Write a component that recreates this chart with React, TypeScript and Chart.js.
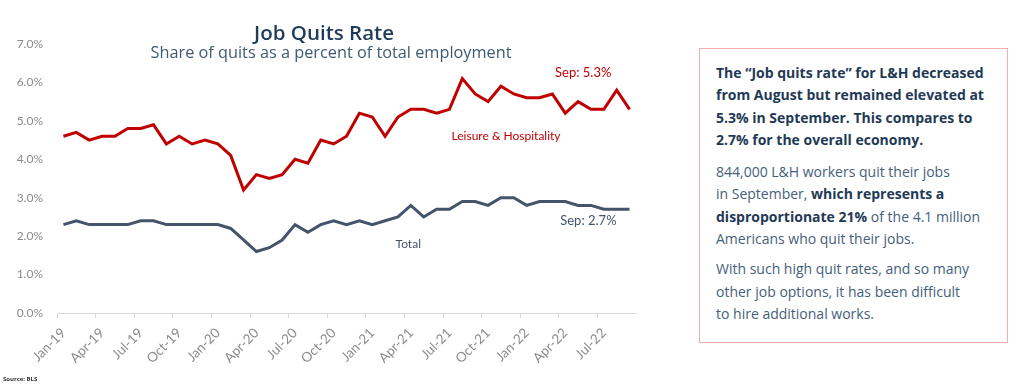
import React, { useEffect, useRef } from "react";
import { Chart, registerables } from "chart.js";

Chart.register(...registerables);

const months = [
  "Jan-19","Feb-19","Mar-19","Apr-19","May-19","Jun-19","Jul-19","Aug-19","Sep-19","Oct-19","Nov-19","Dec-19",
  "Jan-20","Feb-20","Mar-20","Apr-20","May-20","Jun-20","Jul-20","Aug-20","Sep-20","Oct-20","Nov-20","Dec-20",
  "Jan-21","Feb-21","Mar-21","Apr-21","May-21","Jun-21","Jul-21","Aug-21","Sep-21","Oct-21","Nov-21","Dec-21",
  "Jan-22","Feb-22","Mar-22","Apr-22","May-22","Jun-22","Jul-22","Aug-22","Sep-22",
];

const leisureHospitality = [
  4.6, 4.7, 4.5, 4.6, 4.6, 4.8, 4.8, 4.9, 4.4, 4.6, 4.4, 4.5,
  4.4, 4.1, 3.2, 3.6, 3.5, 3.6, 4.0, 3.9, 4.5, 4.4, 4.6, 5.2,
  5.1, 4.6, 5.1, 5.3, 5.3, 5.2, 5.3, 6.1, 5.7, 5.5, 5.9, 5.7,
  5.6, 5.6, 5.7, 5.2, 5.5, 5.3, 5.3, 5.8, 5.3,
];

const total = [
  2.3, 2.4, 2.3, 2.3, 2.3, 2.3, 2.4, 2.4, 2.3, 2.3, 2.3, 2.3,
  2.3, 2.2, 1.9, 1.6, 1.7, 1.9, 2.3, 2.1, 2.3, 2.4, 2.3, 2.4,
  2.3, 2.4, 2.5, 2.8, 2.5, 2.7, 2.7, 2.9, 2.9, 2.8, 3.0, 3.0,
  2.8, 2.9, 2.9, 2.9, 2.8, 2.8, 2.7, 2.7, 2.7,
];

const yTicks = [0, 1, 2, 3, 4, 5, 6, 7];

const RED = "#C00000";
const NAVY = "#44546A";

// annotation labels, placed in data coordinates (category index, percent)
const annotations = [
  { text: "Sep: 5.3%", x: 40.4, y: 6.25, color: RED, size: 13 },
  { text: "Leisure & Hospitality", x: 34.4, y: 4.6, color: RED, size: 12 },
  { text: "Total", x: 26.8, y: 1.8, color: NAVY, size: 12 },
  { text: "Sep: 2.7%", x: 40.8, y: 2.4, color: NAVY, size: 13 },
];

const annotationPlugin = {
  id: "seriesLabels",
  afterDatasetsDraw(chart: any) {
    const { ctx, scales } = chart;
    ctx.save();
    ctx.textAlign = "center";
    ctx.textBaseline = "middle";
    annotations.forEach((a) => {
      ctx.font = `${a.size}px Lato, "Liberation Sans", sans-serif`;
      ctx.fillStyle = a.color;
      ctx.fillText(a.text, scales.x.getPixelForValue(a.x), scales.y.getPixelForValue(a.y));
    });
    ctx.restore();
  },
};

function QuitsChart() {
  const ref = useRef<HTMLCanvasElement | null>(null);
  useEffect(() => {
    if (!ref.current) return;
    const chart = new Chart(ref.current, {
      type: "line",
      data: {
        labels: months,
        datasets: [
          {
            label: "Leisure & Hospitality",
            data: leisureHospitality,
            borderColor: RED,
            borderWidth: 3,
            pointRadius: 0,
            tension: 0,
          },
          {
            label: "Total",
            data: total,
            borderColor: NAVY,
            borderWidth: 3,
            pointRadius: 0,
            tension: 0,
          },
        ],
      },
      options: {
        animation: false,
        responsive: false,
        maintainAspectRatio: false,
        layout: { padding: { top: 44, right: 24, left: 0, bottom: 0 } },
        plugins: {
          legend: { display: false },
          title: { display: false },
          tooltip: { enabled: false },
        },
        scales: {
          x: {
            type: "category",
            offset: true,
            afterFit: (s: any) => { s.height = 74; },
            border: { display: true, color: "#D9D9D9", width: 1 },
            grid: {
              offset: true,
              drawOnChartArea: false,
              drawTicks: true,
              tickLength: 5,
              color: (c: any) => (c.index % 3 === 0 ? "#D9D9D9" : "rgba(0,0,0,0)"),
            },
            ticks: {
              autoSkip: false,
              minRotation: 45,
              maxRotation: 45,
              padding: 7,
              color: "#8C8C8C",
              font: { family: "Lato, 'Liberation Sans', sans-serif", size: 13.5 },
              callback: (_v: any, i: number) => (i % 3 === 0 ? months[i] : ""),
            },
          },
          y: {
            min: 0,
            max: 7,
            afterFit: (s: any) => { s.width = 57; },
            afterBuildTicks: (s: any) => { s.ticks = yTicks.map((v) => ({ value: v })); },
            border: { display: false },
            grid: { display: false, drawTicks: false },
            ticks: {
              padding: 14,
              color: "#8C8C8C",
              font: { family: "Lato, 'Liberation Sans', sans-serif", size: 12 },
              callback: (v: any) => Number(v).toFixed(1) + "%",
            },
          },
        },
      },
      plugins: [annotationPlugin],
    });
    return () => chart.destroy();
  }, []);
  return <canvas ref={ref} width={660} height={387} style={{ position: "absolute", left: 0, top: 0, width: 660, height: 387 }} />;
}

export default function App() {
  const sans = "'Open Sans', 'Noto Sans', sans-serif";
  const boxBold: React.CSSProperties = { fontWeight: 700, color: "#1F3A56" };
  return (
    <div style={{ position: "absolute", left: 0, top: 0, width: 1027, height: 387, background: "#fff", overflow: "hidden", fontFamily: sans }}>
      <QuitsChart />
      <div style={{ position: "absolute", left: 324, top: 19, transform: "translateX(-50%)", whiteSpace: "nowrap", fontSize: 20.5, fontWeight: 600, color: "#1F3B5A", lineHeight: "26px" }}>
        Job Quits Rate
      </div>
      <div style={{ position: "absolute", left: 331, top: 42, transform: "translateX(-50%)", whiteSpace: "nowrap", fontSize: 16.3, color: "#3E5A73", lineHeight: "20px" }}>
        Share of quits as a percent of total employment
      </div>
      <div style={{ position: "absolute", left: 699, top: 48, width: 309, height: 295, boxSizing: "border-box", border: "1.5px solid #F2AEAE", padding: "13px 0 0 16px", fontSize: 14, lineHeight: "22.3px", color: "#44607A", whiteSpace: "nowrap" }}>
        <div style={boxBold}>
          The “Job quits rate” for L&amp;H decreased<br />
          from August but remained elevated at<br />
          5.3% in September. This compares to<br />
          2.7% for the overall economy.
        </div>
        <div style={{ marginTop: 10 }}>
          844,000 L&amp;H workers quit their jobs<br />
          in September, <span style={boxBold}>which represents a</span><br />
          <span style={boxBold}>disproportionate 21%</span> of the 4.1 million<br />
          Americans who quit their jobs.
        </div>
        <div style={{ marginTop: 8 }}>
          With such high quit rates, and so many<br />
          other job options, it has been difficult<br />
          to hire additional works.
        </div>
      </div>
      <div style={{ position: "absolute", left: 3, top: 375, fontSize: 6, fontWeight: 700, color: "#333", whiteSpace: "nowrap" }}>
        Source: BLS
      </div>
    </div>
  );
}
